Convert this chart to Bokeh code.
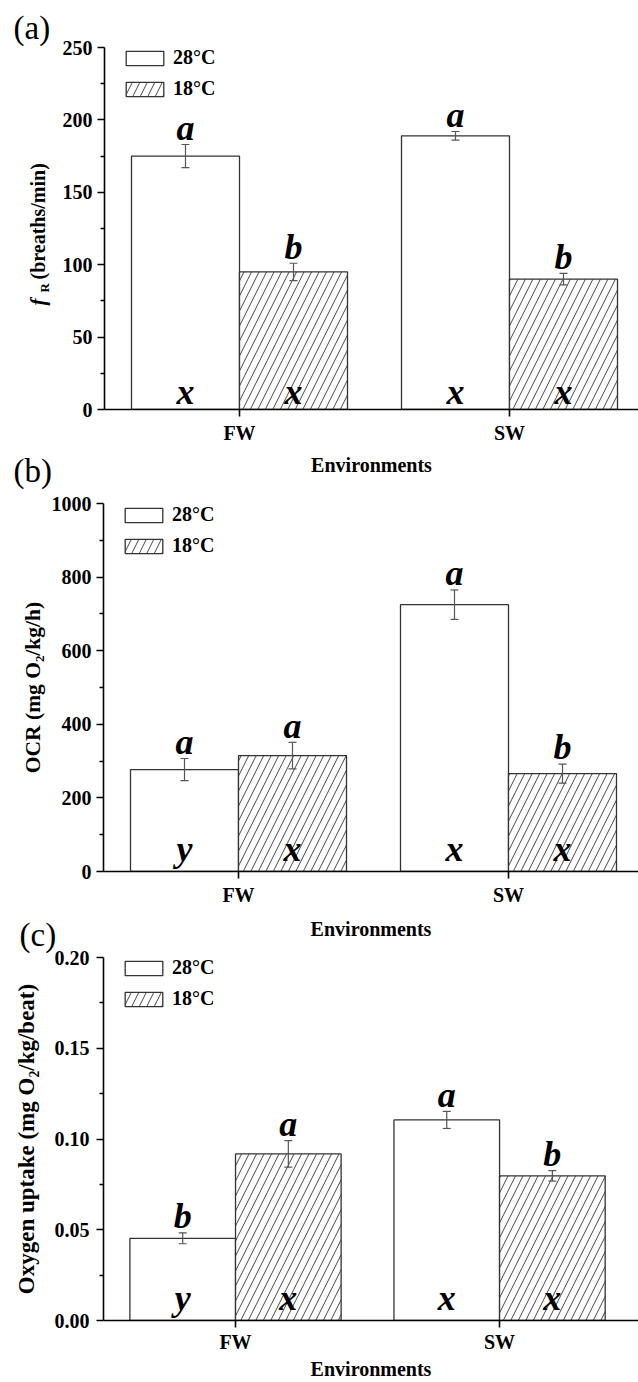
import math
from bokeh.plotting import figure
from bokeh.models import (Range1d, FixedTicker, Whisker, TeeHead, Legend, LegendItem,
                          Label, ColumnDataSource, NumeralTickFormatter, Title)
from bokeh.layouts import column, row
from bokeh.core.properties import value
from bokeh.embed import file_html
from bokeh.resources import INLINE

# ---------------- data ----------------
envs = ["FW", "SW"]
temps = ["28°C", "18°C"]
panel_tags = ["(a)", "(b)", "(c)"]
x_title = "Environments"

# (a) respiratory frequency fR (breaths/min)
fr_28 = [175, 189]
fr_28_err = [8, 3]
fr_18 = [95, 90]
fr_18_err = [6, 4]
fr_sig_top_28 = ["a", "a"]
fr_sig_top_18 = ["b", "b"]
fr_sig_bot_28 = ["x", "x"]
fr_sig_bot_18 = ["x", "x"]
fr_yticks = [0, 50, 100, 150, 200, 250]
fr_label_parts = ["f", "R", "(breaths/min)"]

# (b) oxygen consumption rate OCR (mg O2/kg/h)
ocr_28 = [277, 725]
ocr_28_err = [30, 40]
ocr_18 = [315, 266]
ocr_18_err = [36, 26]
ocr_sig_top_28 = ["a", "a"]
ocr_sig_top_18 = ["a", "b"]
ocr_sig_bot_28 = ["y", "x"]
ocr_sig_bot_18 = ["x", "x"]
ocr_yticks = [0, 200, 400, 600, 800, 1000]
ocr_label = "OCR (mg O\u2082/kg/h)"

# (c) oxygen uptake per heart beat (mg O2/kg/beat)
ou_28 = [0.0453, 0.1105]
ou_28_err = [0.003, 0.0047]
ou_18 = [0.0918, 0.0797]
ou_18_err = [0.0073, 0.0029]
ou_sig_top_28 = ["b", "a"]
ou_sig_top_18 = ["a", "b"]
ou_sig_bot_28 = ["y", "x"]
ou_sig_bot_18 = ["x", "x"]
ou_yticks = [0.00, 0.05, 0.10, 0.15, 0.20]
ou_label = "Oxygen uptake (mg O\u2082/kg/beat)"

SERIF = "Liberation Serif"
EDGE = "#333333"
ERR = "#555555"
W = 638
LETTER_SIZE = 36


def make_panel(vals28, err28, vals18, err18, top28, top18, bot28, bot18, yticks,
               ylabel, height, left, top, bottom, spacing, bot_off, legend_top,
               tag, tag_standoff, tick_fmt=None, ylabel_size="21px", ylabel_standoff=2,
               ytick_standoff=5, xlabel_standoff=7, xtick_standoff=5, margin=(0, 0, 0, 0)):
    xend = 0.5 + (W - left) / spacing
    p = figure(width=W, height=height, output_backend="svg", toolbar_location=None,
               x_range=Range1d(0.5, xend), y_range=Range1d(yticks[0], yticks[-1]),
               min_border_left=left, min_border_right=0, min_border_top=top,
               min_border_bottom=bottom, outline_line_color=None,
               background_fill_color="white", border_fill_color=None, margin=margin)
    p.xgrid.visible = False
    p.ygrid.visible = False

    # panel tag as a left-aligned title shifted to the page margin
    p.title = Title(text=tag, align="left", offset=13 - left, standoff=tag_standoff,
                    vertical_align="bottom", text_font=SERIF, text_font_style="normal",
                    text_font_size="33px", text_color="black")

    xs = [i + 1 for i in range(len(envs))]
    x28 = [x - 0.2 for x in xs]
    x18 = [x + 0.2 for x in xs]

    def src(xv, vals, errs, lt, lb):
        return ColumnDataSource(dict(x=xv, top=vals,
                                     upper=[v + e for v, e in zip(vals, errs)],
                                     lower=[v - e for v, e in zip(vals, errs)],
                                     lt=lt, lb=lb, zero=[0] * len(xv)))

    s28 = src(x28, vals28, err28, top28, bot28)
    s18 = src(x18, vals18, err18, top18, bot18)

    r28 = p.vbar(x="x", top="top", width=0.4, bottom=0, source=s28, fill_color="white",
                 line_color=EDGE, line_width=1.3)
    r18 = p.vbar(x="x", top="top", width=0.4, bottom=0, source=s18, fill_color="white",
                 line_color=EDGE, line_width=1.3, hatch_pattern="/", hatch_color="#333333",
                 hatch_scale=15, hatch_weight=0.9)

    mid_to_base = 0.3375 * LETTER_SIZE  # text middle -> alphabetic baseline (px)
    for s in (s28, s18):
        w = Whisker(base="x", upper="upper", lower="lower", source=s, line_color=ERR,
                    line_width=1.2, level="overlay",
                    upper_head=TeeHead(size=8, line_color=ERR, line_width=1.2),
                    lower_head=TeeHead(size=8, line_color=ERR, line_width=1.2))
        p.add_layout(w)
        p.text(x="x", y="upper", text="lt", source=s, text_font=value(SERIF),
               text_font_style="bold italic", text_font_size=f"{LETTER_SIZE}px",
               text_align="center", text_baseline="middle",
               y_offset=-(4.5 + mid_to_base), text_color="black")
        p.text(x="x", y="zero", text="lb", source=s, text_font=value(SERIF),
               text_font_style="bold italic", text_font_size=f"{LETTER_SIZE}px",
               text_align="center", text_baseline="middle",
               y_offset=-(bot_off + mid_to_base), text_color="black")

    # axes
    p.xaxis.ticker = FixedTicker(ticks=xs, minor_ticks=[])
    p.xaxis.major_label_overrides = {x: e for x, e in zip(xs, envs)}
    p.xaxis.axis_label = x_title
    minor = [(a + b) / 2 for a, b in zip(yticks[:-1], yticks[1:])]
    p.yaxis.ticker = FixedTicker(ticks=yticks, minor_ticks=minor)
    if tick_fmt:
        p.yaxis.formatter = NumeralTickFormatter(format=tick_fmt)
    p.yaxis.axis_label = ylabel
    for ax in (p.xaxis, p.yaxis):
        ax.axis_line_color = "black"
        ax.axis_line_width = 1.6
        ax.major_tick_line_color = "black"
        ax.major_tick_line_width = 1.6
        ax.minor_tick_line_color = "black"
        ax.minor_tick_line_width = 1.4
        ax.major_tick_in = 0
        ax.major_tick_out = 7
        ax.minor_tick_in = 0
        ax.minor_tick_out = 4
        ax.major_label_text_font = SERIF
        ax.major_label_text_font_style = "bold"
        ax.major_label_text_font_size = "20px"
        ax.major_label_text_color = "black"
        ax.axis_label_text_font = SERIF
        ax.axis_label_text_font_style = "bold"
        ax.axis_label_text_color = "black"
    p.xaxis.axis_label_text_font_size = "20px"
    p.xaxis.major_label_standoff = xtick_standoff
    p.xaxis.axis_label_standoff = xlabel_standoff
    p.yaxis.axis_label_text_font_size = ylabel_size
    p.yaxis.major_label_standoff = ytick_standoff
    p.yaxis.axis_label_standoff = ylabel_standoff

    # legend
    frame_h = height - top - bottom
    leg = Legend(items=[LegendItem(label=temps[0], renderers=[r28]),
                        LegendItem(label=temps[1], renderers=[r18])],
                 location=(17, frame_h - legend_top - 54),
                 glyph_width=47, glyph_height=18, label_height=18, label_standoff=5,
                 spacing=8, padding=0, margin=0, border_line_color=None,
                 background_fill_alpha=0, label_text_font=SERIF,
                 label_text_font_style="bold", label_text_font_size="20px",
                 label_text_color="black")
    p.add_layout(leg)
    return p


# ---- panel (a): frame x 104..638, y 47..414 (page rows) ----
LAB_W = 60
A_H = 478
A_FRAME_BOTTOM = 414
pA = make_panel(fr_28, fr_28_err, fr_18, fr_18_err, fr_sig_top_28, fr_sig_top_18,
                fr_sig_bot_28, fr_sig_bot_18, fr_yticks, None, height=A_H, left=104,
                top=47, bottom=A_H - A_FRAME_BOTTOM, spacing=270, bot_off=5, legend_top=4,
                tag=panel_tags[0], tag_standoff=3, margin=(0, 0, 0, -LAB_W))

# y label "f_R (breaths/min)" with italic f and subscript R: drawn in a narrow
# strip placed under the left margin of panel (a) (its frame aligns with pA's frame)
labA = figure(width=LAB_W, height=A_H, output_backend="svg", toolbar_location=None,
              x_axis_type=None, y_axis_type=None, x_range=Range1d(0, 1), y_range=Range1d(0, 1),
              min_border=0, outline_line_color=None, background_fill_color=None,
              border_fill_color=None)
labA.xgrid.visible = False
labA.ygrid.visible = False
lab_kw = dict(x_units="screen", y_units="screen", angle=math.pi / 2, text_font=SERIF,
              text_color="black", text_align="left", text_baseline="middle")
# (text, column of text middle, page row where the text starts, style, size)
label_specs = [
    (fr_label_parts[0], 37, 310, "bold italic", "21px"),
    (fr_label_parts[1], 44, 297, "bold", "13px"),
    (fr_label_parts[2], 37, 284, "bold", "20px"),
]
for txt, col, rw, style, size in label_specs:
    labA.add_layout(Label(x=col, y=A_FRAME_BOTTOM - rw, text=txt, text_font_style=style,
                          text_font_size=size, **lab_kw))

# ---- panel (b): figure starts at page row 433, frame 503..875 ----
pB = make_panel(ocr_28, ocr_28_err, ocr_18, ocr_18_err, ocr_sig_top_28, ocr_sig_top_18,
                ocr_sig_bot_28, ocr_sig_bot_18, ocr_yticks, ocr_label, height=509,
                left=103, top=70, bottom=67, spacing=270, bot_off=10, legend_top=4,
                tag=panel_tags[1], tag_standoff=29, ylabel_size="21.5px",
                ylabel_standoff=4, xlabel_standoff=9, margin=(-45, 0, 0, 0))

# ---- panel (c): figure starts at page row 907, frame 957..1325 ----
pC = make_panel(ou_28, ou_28_err, ou_18, ou_18_err, ou_sig_top_28, ou_sig_top_18,
                ou_sig_bot_28, ou_sig_bot_18, ou_yticks, ou_label, height=475,
                left=97, top=50, bottom=57, spacing=267, bot_off=10, legend_top=4,
                tag=panel_tags[2], tag_standoff=9, tick_fmt="0.00", ylabel_size="23px",
                ylabel_standoff=13, ytick_standoff=7, xlabel_standoff=2, xtick_standoff=3,
                margin=(-35, 0, 0, 0))

layout = column(row(labA, pA, spacing=0), pB, pC, spacing=0)
open("out.html", "w").write(file_html(layout, INLINE))
